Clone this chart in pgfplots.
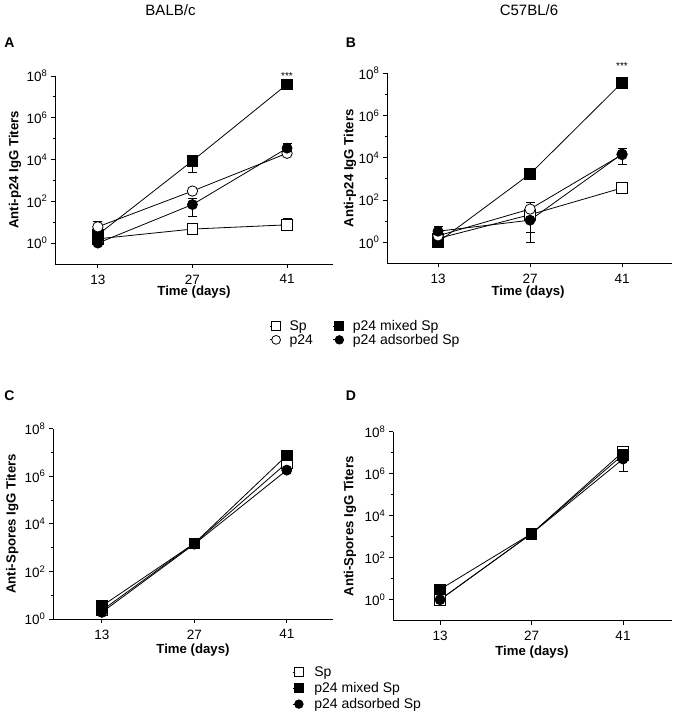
\documentclass[border=0pt]{standalone}
\usepackage{fontspec}
\setmainfont{Liberation Sans}
\usepackage{pgfplots}
\pgfplotsset{compat=1.18}

\pgfplotsset{
  myPanel/.style={
    scale only axis,
    axis x line*=bottom, axis y line*=left,
    axis line style={-, line width=0.8pt},
    tick align=outside, major tick length=4pt, minor tick length=2.5pt,
    tick style={black, line width=0.8pt},
    xtick={13,27,41}, xticklabels={13,27,41},
    ytick={1,100,1e4,1e6,1e8}, minor ytick={10,1000,1e5,1e7},
    yticklabels={10\textsuperscript{0},10\textsuperscript{2},10\textsuperscript{4},10\textsuperscript{6},10\textsuperscript{8}},
    ymax=1e8,
    tick label style={font=\fontsize{13.5}{15}\selectfont},
    xticklabel style={inner sep=1pt, yshift=-5.5pt},
    every axis label/.append style={font=\bfseries\fontsize{13.2}{15}\selectfont, inner sep=1pt},
    xlabel={Time (days)},
    clip=false,
  },
  stSp/.style={black, line width=0.8pt, mark=square*, mark size=5.3pt, mark options={fill=white, line width=0.8pt}},
  stPc/.style={black, line width=0.8pt, mark=*, mark size=5.2pt, mark options={fill=white, line width=0.8pt}},
  stMs/.style={black, line width=0.8pt, mark=square*, mark size=5.3pt, mark options={fill=black}},
  stAc/.style={black, line width=0.8pt, mark=*, mark size=5pt, mark options={fill=black}},
  stEb/.style={black, line width=0.8pt, mark=-, mark size=4.5pt, mark options={line width=0.8pt}},
}

\begin{document}
\begin{tikzpicture}
\useasboundingbox (0pt,0pt) rectangle (673pt,719pt);

% titles and letters
\node[font=\fontsize{15}{17}\selectfont] at (170.5pt,708.5pt) {BALB/c};
\node[font=\fontsize{15}{17}\selectfont] at (529pt,708.5pt) {C57BL/6};
\node[font=\bfseries\fontsize{14}{16}\selectfont] at (9.5pt,676pt) {A};
\node[font=\bfseries\fontsize{14}{16}\selectfont] at (351pt,676pt) {B};
\node[font=\bfseries\fontsize{14}{16}\selectfont] at (9.5pt,323pt) {C};
\node[font=\bfseries\fontsize{14}{16}\selectfont] at (351pt,323pt) {D};

% ---------------- Panel A ----------------
\begin{semilogyaxis}[myPanel, at={(55pt,455pt)}, anchor=south west, width=278pt, height=188pt,
  xmin=6.66, xmax=47.8, ymin=0.1,
  ylabel={Anti-p24 IgG Titers},
  ylabel style={at={(axis description cs:-0.144,0.5)}, anchor=center},
  xlabel style={at={(axis description cs:0.5,-0.152)}, anchor=center},
  legend columns=2,
  legend style={draw=none, fill=none, font=\fontsize{14}{15}\selectfont,
      inner sep=1pt, row sep=-2pt, cells={anchor=west},
      at={(0.768,-0.283)}, anchor=north west,
      /tikz/every odd column/.append style={column sep=7pt},
      /tikz/every even column/.append style={column sep=18pt}},
  legend image code/.code={
      \draw[#1,mark=none] (-6pt,0pt)--(0pt,0pt);
      \draw[#1, every mark/.append style={scale=0.85}] plot coordinates {(0pt,0pt)};
  },
]
% error bars (vertical segments with caps)
\addplot[stEb, forget plot] coordinates {(27,4.7) (27,6.2)};
\addplot[stEb, forget plot] coordinates {(41,7.5) (41,16)};
\addplot[stEb, forget plot] coordinates {(13,6) (13,11)};
\addplot[stEb, forget plot] coordinates {(27,2300) (27,8700)};
\addplot[stEb, forget plot] coordinates {(27,18) (27,140)};
\addplot[stEb, forget plot] coordinates {(41,3.5e4) (41,6e4)};
% series
\addplot[stSp] coordinates {(13,1.6) (27,4.7) (41,7.5)};
\addlegendentry{Sp}
\addplot[stMs] coordinates {(13,2.5) (27,8700) (41,4e7)};
\addlegendentry{p24 mixed Sp}
\addplot[stPc] coordinates {(13,6) (27,310) (41,2.0e4)};
\addlegendentry{p24}
\addplot[stAc] coordinates {(13,1.0) (27,70) (41,3.5e4)};
\addlegendentry{p24 adsorbed Sp}
\node[font=\fontsize{10}{10}\selectfont] at (axis cs:41,1.0e8) {***};
\end{semilogyaxis}

% ---------------- Panel B ----------------
\begin{semilogyaxis}[myPanel, at={(387pt,455.7pt)}, anchor=south west, width=285pt, height=190pt,
  xmin=5.24, xmax=48.6, ymin=0.1,
  ylabel={Anti-p24 IgG Titers},
  ylabel style={at={(axis description cs:-0.130,0.5)}, anchor=center},
  xlabel style={at={(axis description cs:0.495,-0.153)}, anchor=center},
]
\addplot[stEb, forget plot] coordinates {(27,3) (27,20)};
\addplot[stEb, forget plot] coordinates {(27,37) (27,78)};
\addplot[stEb, forget plot] coordinates {(13,3.3) (13,5.8)};
\addplot[stEb, forget plot] coordinates {(27,1.0) (27,11)};
\addplot[stEb, forget plot] coordinates {(41,4.7e3) (41,2.9e4)};
\addplot[stSp] coordinates {(13,1.5) (27,20) (41,370)};
\addplot[stMs] coordinates {(13,1.0) (27,1700) (41,3.6e7)};
\addplot[stPc] coordinates {(13,2) (27,37) (41,1.4e4)};
\addplot[stAc] coordinates {(13,3.3) (27,11) (41,1.5e4)};
\node[font=\fontsize{10}{10}\selectfont] at (axis cs:41,2.2e8) {***};
\end{semilogyaxis}

% ---------------- Panel C ----------------
\begin{semilogyaxis}[myPanel, at={(53pt,100pt)}, anchor=south west, width=280pt, height=190.4pt,
  xmin=5.6, xmax=48, ymin=1,
  ylabel={Anti-Spores IgG Titers},
  ylabel style={at={(axis description cs:-0.146,0.5)}, anchor=center},
  xlabel style={at={(axis description cs:0.5,-0.163)}, anchor=center},
  legend columns=1,
  legend style={draw=none, fill=none, font=\fontsize{14}{15}\selectfont,
      inner sep=1pt, row sep=0.5pt, cells={anchor=west},
      at={(0.851,-0.232)}, anchor=north west,
      /tikz/every odd column/.append style={column sep=9pt}},
  legend image code/.code={
      \draw[#1,mark=none] (-6pt,0pt)--(0pt,0pt);
      \draw[#1, every mark/.append style={scale=0.85}] plot coordinates {(0pt,0pt)};
  },
]
\addplot[stSp] coordinates {(13,2.3) (27,1500) (41,3.6e6)};
\addlegendentry{Sp}
\addplot[stMs] coordinates {(13,3.5) (27,1500) (41,7.5e6)};
\addlegendentry{p24 mixed Sp}
\addplot[stAc] coordinates {(13,1.9) (27,1400) (41,1.8e6)};
\addlegendentry{p24 adsorbed Sp}
\end{semilogyaxis}

% ---------------- Panel D ----------------
\begin{semilogyaxis}[myPanel, at={(393pt,98.3pt)}, anchor=south west, width=279pt, height=189pt,
  xmin=5.8, xmax=48.5, ymin=0.1,
  ylabel={Anti-Spores IgG Titers},
  ylabel style={at={(axis description cs:-0.154,0.5)}, anchor=center},
  xlabel style={at={(axis description cs:0.498,-0.166)}, anchor=center},
]
\addplot[stEb, forget plot] coordinates {(41,1.3e6) (41,5e6)};
\addplot[stSp] coordinates {(13,1.0) (27,1400) (41,1.1e7)};
\addplot[stMs] coordinates {(13,3.1) (27,1400) (41,8e6)};
\addplot[stAc] coordinates {(13,1.0) (27,1400) (41,5e6)};
\end{semilogyaxis}
\end{tikzpicture}
\end{document}
